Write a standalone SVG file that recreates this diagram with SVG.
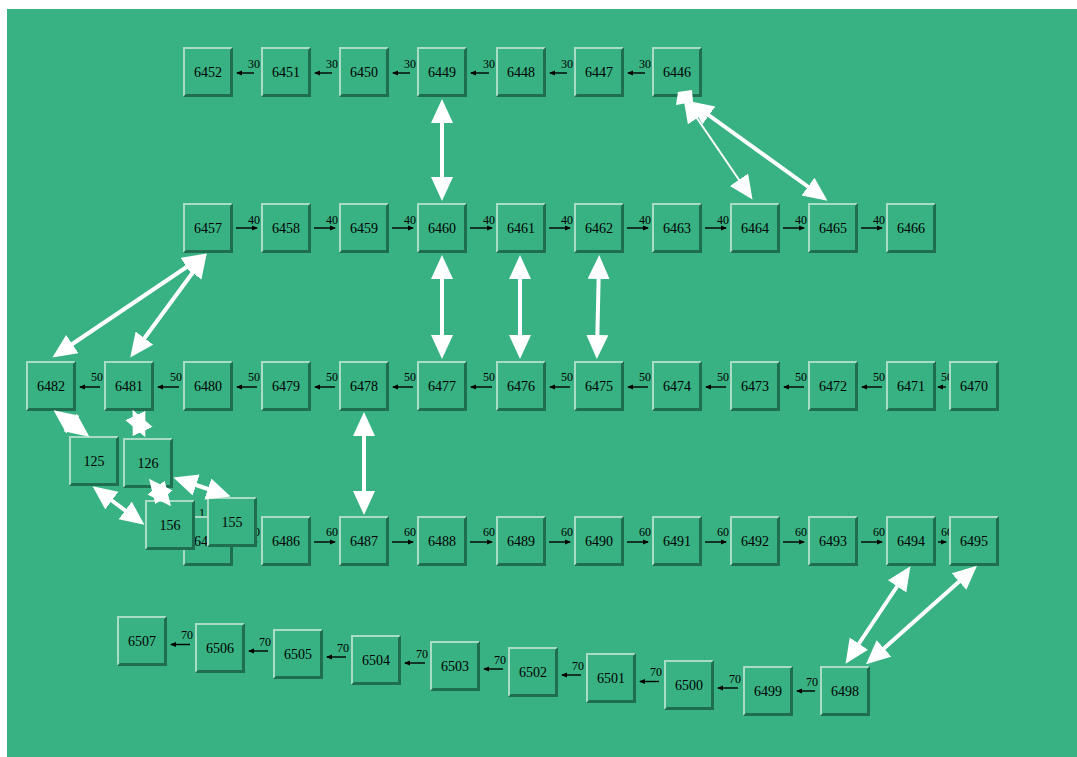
<svg xmlns="http://www.w3.org/2000/svg" xmlns:xlink="http://www.w3.org/1999/xlink" width="1077" height="757" viewBox="0 0 1077 757">
<style>
.t{font-family:"Liberation Serif","DejaVu Serif",serif;font-size:14px;text-anchor:middle;fill:#000}
.l{font-family:"Liberation Serif","DejaVu Serif",serif;font-size:12px;fill:#000}
.e{stroke:#000;stroke-width:1.4;fill:none;marker-end:url(#ah)}
.w{stroke:#fff;stroke-width:4;fill:none;marker-start:url(#wh);marker-end:url(#wh)}
.wt{stroke:#fff;stroke-width:2;fill:none;marker-start:url(#wh);marker-end:url(#wh)}
</style>
<defs>
<marker id="ah" markerUnits="userSpaceOnUse" markerWidth="6" markerHeight="6" refX="5" refY="3" orient="auto"><path d="M0,0.5 L6,3 L0,5.5 z" fill="#000"/></marker>
<marker id="wh" markerUnits="userSpaceOnUse" markerWidth="24" markerHeight="24" refX="16" refY="11" orient="auto-start-reverse"><path d="M0,0 L24,11 L0,22 z" fill="#fff"/></marker>
<g id="box">
<rect width="50" height="50" fill="#39b283"/>
<polygon points="0,0 50,0 48,2 2,2 2,48 0,50" fill="#a9dcc4"/>
<polygon points="50,0 50,50 0,50 3,47 47,47 47,3" fill="#1f6e50"/>
</g>
</defs>
<rect x="7" y="9" width="1070" height="748" fill="#39b283"/>
<g id="edges">
<line class="e" x1="254" y1="73" x2="237" y2="73"/><text class="l" x="248" y="68">30</text>
<line class="e" x1="332" y1="73" x2="315" y2="73"/><text class="l" x="326" y="68">30</text>
<line class="e" x1="410" y1="73" x2="393" y2="73"/><text class="l" x="404" y="68">30</text>
<line class="e" x1="489" y1="73" x2="471" y2="73"/><text class="l" x="483" y="68">30</text>
<line class="e" x1="567" y1="73" x2="550" y2="73"/><text class="l" x="561" y="68">30</text>
<line class="e" x1="645" y1="73" x2="628" y2="73"/><text class="l" x="639" y="68">30</text>
<line class="e" x1="236" y1="228" x2="257" y2="228"/><text class="l" x="248" y="224">40</text>
<line class="e" x1="314" y1="228" x2="335" y2="228"/><text class="l" x="326" y="224">40</text>
<line class="e" x1="392" y1="228" x2="413" y2="228"/><text class="l" x="404" y="224">40</text>
<line class="e" x1="470" y1="228" x2="492" y2="228"/><text class="l" x="483" y="224">40</text>
<line class="e" x1="549" y1="228" x2="570" y2="228"/><text class="l" x="561" y="224">40</text>
<line class="e" x1="627" y1="228" x2="648" y2="228"/><text class="l" x="639" y="224">40</text>
<line class="e" x1="705" y1="228" x2="726" y2="228"/><text class="l" x="717" y="224">40</text>
<line class="e" x1="783" y1="228" x2="804" y2="228"/><text class="l" x="795" y="224">40</text>
<line class="e" x1="861" y1="228" x2="882" y2="228"/><text class="l" x="873" y="224">40</text>
<line class="e" x1="100" y1="387" x2="80" y2="387"/><text class="l" x="91" y="381">50</text>
<line class="e" x1="179" y1="387" x2="158" y2="387"/><text class="l" x="170" y="381">50</text>
<line class="e" x1="257" y1="387" x2="237" y2="387"/><text class="l" x="248" y="381">50</text>
<line class="e" x1="335" y1="387" x2="315" y2="387"/><text class="l" x="326" y="381">50</text>
<line class="e" x1="413" y1="387" x2="393" y2="387"/><text class="l" x="404" y="381">50</text>
<line class="e" x1="492" y1="387" x2="471" y2="387"/><text class="l" x="483" y="381">50</text>
<line class="e" x1="570" y1="387" x2="550" y2="387"/><text class="l" x="561" y="381">50</text>
<line class="e" x1="648" y1="387" x2="628" y2="387"/><text class="l" x="639" y="381">50</text>
<line class="e" x1="726" y1="387" x2="706" y2="387"/><text class="l" x="717" y="381">50</text>
<line class="e" x1="804" y1="387" x2="784" y2="387"/><text class="l" x="795" y="381">50</text>
<line class="e" x1="882" y1="387" x2="862" y2="387"/><text class="l" x="873" y="381">50</text>
<line class="e" x1="946" y1="387" x2="938" y2="387"/><text class="l" x="941" y="381">50</text>
<line class="e" x1="236" y1="542" x2="257" y2="542"/><text class="l" x="248" y="536">60</text>
<line class="e" x1="314" y1="542" x2="335" y2="542"/><text class="l" x="326" y="536">60</text>
<line class="e" x1="392" y1="542" x2="413" y2="542"/><text class="l" x="404" y="536">60</text>
<line class="e" x1="470" y1="542" x2="492" y2="542"/><text class="l" x="483" y="536">60</text>
<line class="e" x1="549" y1="542" x2="570" y2="542"/><text class="l" x="561" y="536">60</text>
<line class="e" x1="627" y1="542" x2="648" y2="542"/><text class="l" x="639" y="536">60</text>
<line class="e" x1="705" y1="542" x2="726" y2="542"/><text class="l" x="717" y="536">60</text>
<line class="e" x1="783" y1="542" x2="804" y2="542"/><text class="l" x="795" y="536">60</text>
<line class="e" x1="861" y1="542" x2="882" y2="542"/><text class="l" x="873" y="536">60</text>
<line class="e" x1="938" y1="542" x2="946" y2="542"/><text class="l" x="941" y="536">60</text>
<line class="e" x1="190" y1="644.5" x2="171" y2="644.5"/><text class="l" x="181" y="639">70</text>
<line class="e" x1="268" y1="651" x2="249" y2="651"/><text class="l" x="259" y="646">70</text>
<line class="e" x1="346" y1="657" x2="327" y2="657"/><text class="l" x="337" y="652">70</text>
<line class="e" x1="425" y1="663" x2="405" y2="663"/><text class="l" x="416" y="658">70</text>
<line class="e" x1="503" y1="669" x2="484" y2="669"/><text class="l" x="494" y="664">70</text>
<line class="e" x1="581" y1="675" x2="562" y2="675"/><text class="l" x="572" y="670">70</text>
<line class="e" x1="659" y1="681.5" x2="640" y2="681.5"/><text class="l" x="650" y="676">70</text>
<line class="e" x1="738" y1="688" x2="718" y2="688"/><text class="l" x="729" y="683">70</text>
<line class="e" x1="815" y1="691" x2="797" y2="691"/><text class="l" x="806" y="686">70</text>
<text class="l" x="199" y="517">1</text>
</g>
<g id="n6452"><use href="#box" x="183" y="47"/><text class="t" x="208" y="77">6452</text></g>
<g id="n6451"><use href="#box" x="261" y="47"/><text class="t" x="286" y="77">6451</text></g>
<g id="n6450"><use href="#box" x="339" y="47"/><text class="t" x="364" y="77">6450</text></g>
<g id="n6449"><use href="#box" x="417" y="47"/><text class="t" x="442" y="77">6449</text></g>
<g id="n6448"><use href="#box" x="496" y="47"/><text class="t" x="521" y="77">6448</text></g>
<g id="n6447"><use href="#box" x="574" y="47"/><text class="t" x="599" y="77">6447</text></g>
<g id="n6446"><use href="#box" x="652" y="47"/><text class="t" x="677" y="77">6446</text></g>
<g id="n6457"><use href="#box" x="183" y="203"/><text class="t" x="208" y="233">6457</text></g>
<g id="n6458"><use href="#box" x="261" y="203"/><text class="t" x="286" y="233">6458</text></g>
<g id="n6459"><use href="#box" x="339" y="203"/><text class="t" x="364" y="233">6459</text></g>
<g id="n6460"><use href="#box" x="417" y="203"/><text class="t" x="442" y="233">6460</text></g>
<g id="n6461"><use href="#box" x="496" y="203"/><text class="t" x="521" y="233">6461</text></g>
<g id="n6462"><use href="#box" x="574" y="203"/><text class="t" x="599" y="233">6462</text></g>
<g id="n6463"><use href="#box" x="652" y="203"/><text class="t" x="677" y="233">6463</text></g>
<g id="n6464"><use href="#box" x="730" y="203"/><text class="t" x="755" y="233">6464</text></g>
<g id="n6465"><use href="#box" x="808" y="203"/><text class="t" x="833" y="233">6465</text></g>
<g id="n6466"><use href="#box" x="886" y="203"/><text class="t" x="911" y="233">6466</text></g>
<g id="n6482"><use href="#box" x="26" y="361"/><text class="t" x="51" y="391">6482</text></g>
<g id="n6481"><use href="#box" x="104" y="361"/><text class="t" x="129" y="391">6481</text></g>
<g id="n6480"><use href="#box" x="183" y="361"/><text class="t" x="208" y="391">6480</text></g>
<g id="n6479"><use href="#box" x="261" y="361"/><text class="t" x="286" y="391">6479</text></g>
<g id="n6478"><use href="#box" x="339" y="361"/><text class="t" x="364" y="391">6478</text></g>
<g id="n6477"><use href="#box" x="417" y="361"/><text class="t" x="442" y="391">6477</text></g>
<g id="n6476"><use href="#box" x="496" y="361"/><text class="t" x="521" y="391">6476</text></g>
<g id="n6475"><use href="#box" x="574" y="361"/><text class="t" x="599" y="391">6475</text></g>
<g id="n6474"><use href="#box" x="652" y="361"/><text class="t" x="677" y="391">6474</text></g>
<g id="n6473"><use href="#box" x="730" y="361"/><text class="t" x="755" y="391">6473</text></g>
<g id="n6472"><use href="#box" x="808" y="361"/><text class="t" x="833" y="391">6472</text></g>
<g id="n6471"><use href="#box" x="886" y="361"/><text class="t" x="911" y="391">6471</text></g>
<g id="n6470"><use href="#box" x="949" y="361"/><text class="t" x="974" y="391">6470</text></g>
<g id="n6485"><use href="#box" x="183" y="516"/><text class="t" x="208" y="546">6485</text></g>
<g id="n6486"><use href="#box" x="261" y="516"/><text class="t" x="286" y="546">6486</text></g>
<g id="n6487"><use href="#box" x="339" y="516"/><text class="t" x="364" y="546">6487</text></g>
<g id="n6488"><use href="#box" x="417" y="516"/><text class="t" x="442" y="546">6488</text></g>
<g id="n6489"><use href="#box" x="496" y="516"/><text class="t" x="521" y="546">6489</text></g>
<g id="n6490"><use href="#box" x="574" y="516"/><text class="t" x="599" y="546">6490</text></g>
<g id="n6491"><use href="#box" x="652" y="516"/><text class="t" x="677" y="546">6491</text></g>
<g id="n6492"><use href="#box" x="730" y="516"/><text class="t" x="755" y="546">6492</text></g>
<g id="n6493"><use href="#box" x="808" y="516"/><text class="t" x="833" y="546">6493</text></g>
<g id="n6494"><use href="#box" x="886" y="516"/><text class="t" x="911" y="546">6494</text></g>
<g id="n6495"><use href="#box" x="949" y="516"/><text class="t" x="974" y="546">6495</text></g>
<g id="n6507"><use href="#box" x="117" y="616"/><text class="t" x="142" y="646">6507</text></g>
<g id="n6506"><use href="#box" x="195" y="623"/><text class="t" x="220" y="653">6506</text></g>
<g id="n6505"><use href="#box" x="273" y="629"/><text class="t" x="298" y="659">6505</text></g>
<g id="n6504"><use href="#box" x="351" y="635"/><text class="t" x="376" y="665">6504</text></g>
<g id="n6503"><use href="#box" x="430" y="641"/><text class="t" x="455" y="671">6503</text></g>
<g id="n6502"><use href="#box" x="508" y="647"/><text class="t" x="533" y="677">6502</text></g>
<g id="n6501"><use href="#box" x="586" y="653"/><text class="t" x="611" y="683">6501</text></g>
<g id="n6500"><use href="#box" x="664" y="660"/><text class="t" x="689" y="690">6500</text></g>
<g id="n6499"><use href="#box" x="743" y="666"/><text class="t" x="768" y="696">6499</text></g>
<g id="n6498"><use href="#box" x="820" y="666"/><text class="t" x="845" y="696">6498</text></g>
<g id="n125"><use href="#box" x="69" y="436"/><text class="t" x="94" y="466">125</text></g>
<g id="n126"><use href="#box" x="123" y="438"/><text class="t" x="148" y="468">126</text></g>
<g id="n156"><use href="#box" x="145" y="500"/><text class="t" x="170" y="530">156</text></g>
<g id="n155"><use href="#box" x="207" y="497"/><text class="t" x="232" y="527">155</text></g>
<g id="links">
<line class="w" x1="442" y1="107" x2="442" y2="193"/>
<line class="w" x1="442" y1="263" x2="442" y2="351"/>
<line class="w" x1="520" y1="263" x2="520" y2="351"/>
<line class="w" x1="599" y1="263" x2="597" y2="351"/>
<line class="w" x1="364" y1="420" x2="364" y2="507"/>
<polygon points="678,92 692,90 693,102 676,105" fill="#fff"/>
<line class="wt" x1="688" y1="105" x2="748" y2="193"/>
<line class="w" x1="696" y1="106" x2="821" y2="196"/>
<line class="w" x1="200" y1="258" x2="59" y2="353"/>
<line class="w" x1="202" y1="260" x2="135" y2="351"/>
<line class="w" x1="60" y1="415" x2="83" y2="432"/>
<line class="w" x1="136" y1="417" x2="142" y2="430"/>
<line class="w" x1="99" y1="491" x2="138" y2="520"/>
<line class="w" x1="154" y1="485" x2="166" y2="500"/>
<line class="w" x1="181" y1="480" x2="223" y2="494"/>
<line class="w" x1="906" y1="573" x2="850" y2="657"/>
<line class="w" x1="971" y1="571" x2="872" y2="659"/>
</g>
</svg>
